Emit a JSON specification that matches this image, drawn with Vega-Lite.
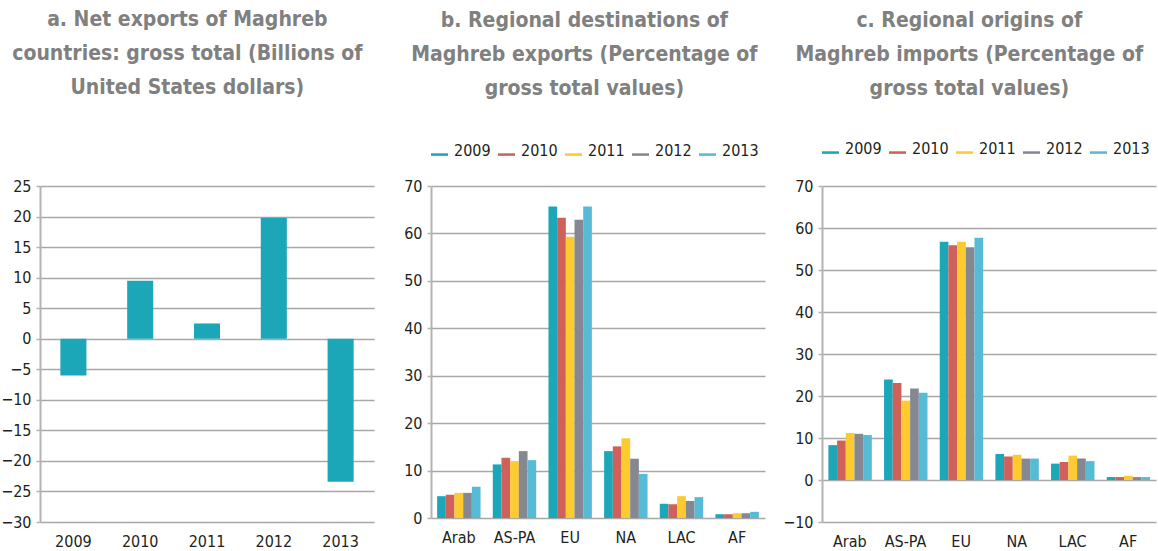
{
  "$schema": "https://vega.github.io/schema/vega-lite/v6.json",
  "background": "white",
  "padding": {"left": 0, "top": 9, "right": 5, "bottom": 0},
  "bounds": "flush",
  "spacing": 57,
  "datasets": {
    "net": [
      {"year": "2009", "value": -6.0},
      {"year": "2010", "value": 9.5},
      {"year": "2011", "value": 2.5},
      {"year": "2012", "value": 19.8},
      {"year": "2013", "value": -23.4}
    ],
    "exp": [
      {"region": "Arab", "year": "2009", "value": 4.6},
      {"region": "Arab", "year": "2010", "value": 4.9},
      {"region": "Arab", "year": "2011", "value": 5.3},
      {"region": "Arab", "year": "2012", "value": 5.3},
      {"region": "Arab", "year": "2013", "value": 6.6},
      {"region": "AS-PA", "year": "2009", "value": 11.3},
      {"region": "AS-PA", "year": "2010", "value": 12.7},
      {"region": "AS-PA", "year": "2011", "value": 12.0},
      {"region": "AS-PA", "year": "2012", "value": 14.1},
      {"region": "AS-PA", "year": "2013", "value": 12.2},
      {"region": "EU", "year": "2009", "value": 65.7},
      {"region": "EU", "year": "2010", "value": 63.3},
      {"region": "EU", "year": "2011", "value": 59.3},
      {"region": "EU", "year": "2012", "value": 62.9},
      {"region": "EU", "year": "2013", "value": 65.7},
      {"region": "NA", "year": "2009", "value": 14.1},
      {"region": "NA", "year": "2010", "value": 15.1},
      {"region": "NA", "year": "2011", "value": 16.8},
      {"region": "NA", "year": "2012", "value": 12.5},
      {"region": "NA", "year": "2013", "value": 9.3},
      {"region": "LAC", "year": "2009", "value": 3.0},
      {"region": "LAC", "year": "2010", "value": 2.9},
      {"region": "LAC", "year": "2011", "value": 4.6},
      {"region": "LAC", "year": "2012", "value": 3.6},
      {"region": "LAC", "year": "2013", "value": 4.4},
      {"region": "AF", "year": "2009", "value": 0.8},
      {"region": "AF", "year": "2010", "value": 0.8},
      {"region": "AF", "year": "2011", "value": 1.0},
      {"region": "AF", "year": "2012", "value": 1.0},
      {"region": "AF", "year": "2013", "value": 1.3}
    ],
    "imp": [
      {"region": "Arab", "year": "2009", "value": 8.3},
      {"region": "Arab", "year": "2010", "value": 9.4},
      {"region": "Arab", "year": "2011", "value": 11.2},
      {"region": "Arab", "year": "2012", "value": 11.0},
      {"region": "Arab", "year": "2013", "value": 10.7},
      {"region": "AS-PA", "year": "2009", "value": 23.9},
      {"region": "AS-PA", "year": "2010", "value": 23.1},
      {"region": "AS-PA", "year": "2011", "value": 18.9},
      {"region": "AS-PA", "year": "2012", "value": 21.8},
      {"region": "AS-PA", "year": "2013", "value": 20.8},
      {"region": "EU", "year": "2009", "value": 56.7},
      {"region": "EU", "year": "2010", "value": 55.9},
      {"region": "EU", "year": "2011", "value": 56.7},
      {"region": "EU", "year": "2012", "value": 55.4},
      {"region": "EU", "year": "2013", "value": 57.7},
      {"region": "NA", "year": "2009", "value": 6.2},
      {"region": "NA", "year": "2010", "value": 5.6},
      {"region": "NA", "year": "2011", "value": 6.0},
      {"region": "NA", "year": "2012", "value": 5.1},
      {"region": "NA", "year": "2013", "value": 5.1},
      {"region": "LAC", "year": "2009", "value": 3.9},
      {"region": "LAC", "year": "2010", "value": 4.3},
      {"region": "LAC", "year": "2011", "value": 5.8},
      {"region": "LAC", "year": "2012", "value": 5.1},
      {"region": "LAC", "year": "2013", "value": 4.5},
      {"region": "AF", "year": "2009", "value": 0.7},
      {"region": "AF", "year": "2010", "value": 0.7},
      {"region": "AF", "year": "2011", "value": 1.0},
      {"region": "AF", "year": "2012", "value": 0.7},
      {"region": "AF", "year": "2013", "value": 0.7}
    ]
  },
  "hconcat": [
    {
      "width": 334,
      "height": 336,
      "title": {
        "text": ["a.  Net exports of Maghreb", "countries: gross total (Billions of", "United States dollars)"],
        "offset": 80
      },
      "data": {"name": "net"},
      "mark": {"type": "bar", "color": "#1ca7b8"},
      "encoding": {
        "x": {
          "field": "year", "type": "nominal", "title": null,
          "scale": {"paddingInner": 0.61, "paddingOuter": 0.305},
          "axis": {"labelAngle": 0, "ticks": false, "domain": false, "grid": false, "labelPadding": 11}
        },
        "y": {
          "field": "value", "type": "quantitative", "title": null,
          "scale": {"domain": [-30, 25], "nice": false, "zero": false},
          "axis": {"values": [-30, -25, -20, -15, -10, -5, 0, 5, 10, 15, 20, 25]}
        }
      }
    },
    {
      "width": 334,
      "height": 332,
      "title": {
        "text": ["b.  Regional destinations of", "Maghreb exports (Percentage of", "gross total values)"],
        "offset": 43
      },
      "data": {"name": "exp"},
      "mark": {"type": "bar"},
      "encoding": {
        "x": {
          "field": "region", "type": "nominal", "title": null, "sort": null,
          "scale": {"paddingInner": 0.22, "paddingOuter": 0.11},
          "axis": {"labelAngle": 0, "ticks": false, "domain": false, "grid": false, "labelPadding": 11}
        },
        "xOffset": {"field": "year", "type": "nominal", "scale": {"paddingInner": 0}},
        "y": {
          "field": "value", "type": "quantitative", "title": null,
          "scale": {"domain": [0, 70], "nice": false},
          "axis": {"values": [0, 10, 20, 30, 40, 50, 60, 70]}
        },
        "color": {
          "field": "year", "type": "nominal", "title": null,
          "scale": {"domain": ["2009", "2010", "2011", "2012", "2013"], "range": ["#1ca7b8", "#cf605a", "#fdca2f", "#868891", "#58bbd5"]},
          "legend": {"orient": "top", "direction": "horizontal", "offset": 27}
        }
      }
    },
    {
      "width": 334,
      "height": 336,
      "title": {
        "text": ["c.  Regional origins of", "Maghreb imports (Percentage of", "gross total values)"],
        "offset": 41
      },
      "data": {"name": "imp"},
      "mark": {"type": "bar"},
      "encoding": {
        "x": {
          "field": "region", "type": "nominal", "title": null, "sort": null,
          "scale": {"paddingInner": 0.23, "paddingOuter": 0.115},
          "axis": {"labelAngle": 0, "ticks": false, "domain": false, "grid": false, "labelPadding": 11}
        },
        "xOffset": {"field": "year", "type": "nominal", "scale": {"paddingInner": 0}},
        "y": {
          "field": "value", "type": "quantitative", "title": null,
          "scale": {"domain": [-10, 70], "nice": false, "zero": false},
          "axis": {"values": [-10, 0, 10, 20, 30, 40, 50, 60, 70]}
        },
        "color": {
          "field": "year", "type": "nominal", "title": null,
          "scale": {"domain": ["2009", "2010", "2011", "2012", "2013"], "range": ["#1ca7b8", "#cf605a", "#fdca2f", "#868891", "#58bbd5"]},
          "legend": {"orient": "top", "direction": "horizontal", "offset": 29}
        }
      }
    }
  ],
  "resolve": {"scale": {"color": "independent", "y": "independent", "x": "independent"}},
  "config": {
    "view": {"stroke": null},
    "font": "DejaVu Sans Condensed",
    "title": {
      "font": "DejaVu Sans Condensed",
      "fontSize": 21,
      "fontWeight": "bold",
      "color": "#808080",
      "lineHeight": 34,
      "anchor": "middle",
      "frame": "bounds"
    },
    "axis": {
      "labelFont": "DejaVu Sans Condensed",
      "labelFontSize": 16,
      "labelColor": "#231f20",
      "gridColor": "#a8a8a8",
      "gridWidth": 1.5,
      "tickColor": "#b3b3b3",
      "domainColor": "#b3b3b3"
    },
    "axisY": {
      "domain": true,
      "domainWidth": 2,
      "ticks": true,
      "tickSize": 4,
      "tickWidth": 1.5,
      "labelPadding": 5,
      "grid": true
    },
    "legend": {
      "labelFont": "DejaVu Sans Condensed",
      "labelFontSize": 16,
      "labelColor": "#231f20",
      "symbolType": "M-1,0.3H1V0.6H-1Z",
      "symbolSize": 289,
      "symbolStrokeWidth": 0,
      "labelOffset": 6,
      "columnPadding": 7,
      "padding": 0
    }
  }
}
